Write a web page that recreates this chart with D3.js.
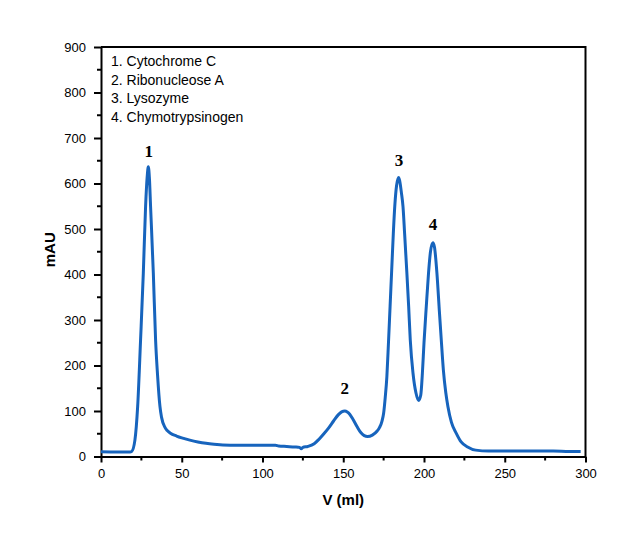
<!DOCTYPE html>
<html>
<head>
<meta charset="utf-8">
<script src="https://cdn.jsdelivr.net/npm/d3@7"></script>
<style>
  html, body { margin: 0; padding: 0; background: #fff; }
  svg { display: block; }
</style>
</head>
<body>
<script>
// ---- data ----
const volume = [0, 10, 18, 19, 21, 22.7, 24.5, 26.2, 27.6, 28.6, 29.3, 30, 30.7, 32.4, 33.8, 35, 36.5, 37.5, 39.6, 41, 43, 46.8, 50, 55, 60, 65, 70, 80, 90, 100, 108, 110, 115, 120, 123, 124, 125, 128, 132, 135, 138, 141, 144, 147, 149, 151, 152.5, 154, 156, 158.5, 161, 163, 165, 168, 171, 172.5, 174, 175, 176, 177, 178, 179, 180, 181, 182, 183, 184.3, 185, 186, 187, 188, 189.4, 190.5, 191.5, 193.2, 195, 196.7, 198, 199, 200, 201.4, 202.8, 204, 205.5, 206.5, 208, 209.5, 210.7, 212, 213.5, 214.8, 217, 220, 223, 227, 232, 240, 250, 260, 270, 280, 290, 297];
const absorbance = [10.5, 10, 10, 11, 36, 110, 256, 403, 549, 615, 637, 610, 549, 403, 256, 180, 110, 86, 64, 57, 51, 45, 41, 36, 32, 29, 27, 25, 25, 25, 25, 23, 22, 21, 20, 17, 20, 22, 28, 38, 50, 63, 78, 92, 98, 100, 98, 93, 82, 66, 52, 46, 44, 47, 56, 64, 78, 95, 130, 175, 250, 330, 410, 490, 555, 595, 613, 605, 580, 549, 490, 403, 330, 256, 183, 140, 123, 135, 183, 250, 329, 403, 450, 470, 460, 403, 320, 256, 190, 140, 110, 75, 51, 32, 21, 14, 12, 12, 12, 12, 12, 11, 11];

const legendItems = ["1. Cytochrome C", "2. Ribonucleose A", "3. Lysozyme", "4. Chymotrypsinogen"];

const peakLabels = ["1", "2", "3", "4"];
const peakLabelV = [29.5, 151, 184.5, 205.5];
const peakLabelY = [658, 137, 638, 498];

const xTicks = [0, 50, 100, 150, 200, 250, 300];
const xMinorTicks = [25, 75, 125, 175, 225, 275];
const yTicks = [0, 100, 200, 300, 400, 500, 600, 700, 800, 900];
const yMinorTicks = [50, 150, 250, 350, 450, 550, 650, 750, 850];

const xTitle = "V (ml)";
const yTitle = "mAU";

// ---- chart ----
const W = 639, H = 554;
const svg = d3.select("body").append("svg").attr("width", W).attr("height", H);

const x = d3.scaleLinear().domain([0, 300]).range([101, 585.5]);
const y = d3.scaleLinear().domain([0, 900]).range([456.5, 47]);

const font = "'Liberation Sans', Arial, sans-serif";

// frame (top and right)
svg.append("path")
  .attr("d", `M${x(0)},${y(900)}H${x(300)}V${y(0)}`)
  .attr("fill", "none").attr("stroke", "#000").attr("stroke-width", 2);

// x axis
const gx = svg.append("g").attr("transform", `translate(0,${y(0)})`);
gx.call(d3.axisBottom(x).tickValues(xTicks).tickSize(6).tickSizeOuter(0).tickPadding(6).tickFormat(d3.format("d")));
gx.append("g").selectAll("line").data(xMinorTicks).join("line")
  .attr("x1", d => x(d)).attr("x2", d => x(d)).attr("y1", 0).attr("y2", 4)
  .attr("stroke", "#000").attr("stroke-width", 2);

// y axis
const gy = svg.append("g").attr("transform", `translate(${x(0)},0)`);
gy.call(d3.axisLeft(y).tickValues(yTicks).tickSize(7).tickSizeOuter(0).tickPadding(8).tickFormat(d3.format("d")));
gy.append("g").selectAll("line").data(yMinorTicks).join("line")
  .attr("y1", d => y(d)).attr("y2", d => y(d)).attr("x1", 0).attr("x2", -4)
  .attr("stroke", "#000").attr("stroke-width", 2);

[gx, gy].forEach(g => {
  g.select(".domain").attr("stroke", "#000").attr("stroke-width", 2);
  g.selectAll(".tick line").attr("stroke", "#000").attr("stroke-width", 2);
  g.selectAll(".tick text").attr("font-family", font).attr("font-size", 13).attr("fill", "#000");
});

// axis titles
svg.append("text")
  .attr("x", (x(0) + x(300)) / 2).attr("y", 505)
  .attr("text-anchor", "middle")
  .attr("font-family", font).attr("font-weight", "bold").attr("font-size", 15)
  .text(xTitle);

svg.append("text")
  .attr("transform", `translate(55,${(y(0) + y(900)) / 2 - 2}) rotate(-90)`)
  .attr("text-anchor", "middle")
  .attr("font-family", font).attr("font-weight", "bold").attr("font-size", 15)
  .text(yTitle);

// curve
const pts = volume.map((v, i) => [v, absorbance[i]]);
svg.append("path")
  .datum(pts)
  .attr("fill", "none")
  .attr("stroke", "#1764bd")
  .attr("stroke-width", 3)
  .attr("stroke-linejoin", "round")
  .attr("d", d3.line().x(d => x(d[0])).y(d => y(d[1])).curve(d3.curveMonotoneX));

// peak labels
svg.append("g").selectAll("text").data(peakLabels).join("text")
  .attr("x", (d, i) => x(peakLabelV[i]))
  .attr("y", (d, i) => y(peakLabelY[i]))
  .attr("text-anchor", "middle")
  .attr("font-family", "'Liberation Serif', 'Times New Roman', serif")
  .attr("font-weight", "bold").attr("font-size", 17)
  .text(d => d);

// legend
svg.append("g").selectAll("text").data(legendItems).join("text")
  .attr("x", 111)
  .attr("y", (d, i) => 66 + i * 18.5)
  .attr("font-family", font).attr("font-size", 14).attr("fill", "#000")
  .text(d => d);
</script>
</body>
</html>
